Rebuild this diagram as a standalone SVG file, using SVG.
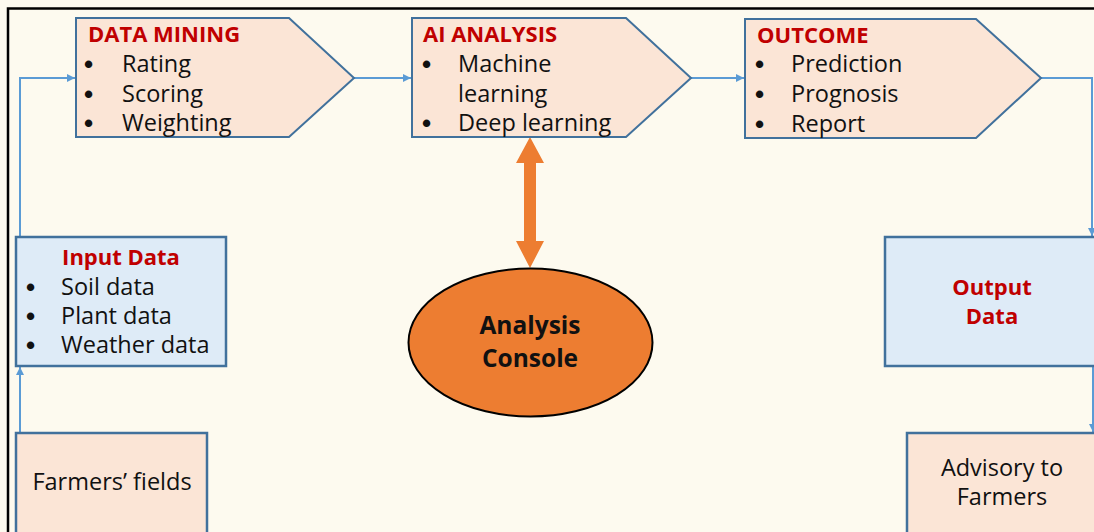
<svg xmlns="http://www.w3.org/2000/svg" width="1094" height="532" viewBox="0 0 1094 532">
<defs>
<marker id="ah" viewBox="0 0 10 10" refX="10" refY="5" markerWidth="8" markerHeight="8" markerUnits="userSpaceOnUse" orient="auto">
<path d="M0,0 L10,5 L0,10 z" fill="#5B9BD5"/>
</marker>
<style>
.pent{fill:#FBE5D6;stroke:#41719C;stroke-width:2}
.blue{fill:#DEEBF7;stroke:#41719C;stroke-width:2.5}
.peach{fill:#FBE5D6;stroke:#41719C;stroke-width:2.5}
.conn{fill:none;stroke:#5B9BD5;stroke-width:2}
.t{font-family:"Open Sans","Liberation Sans",sans-serif;font-size:23.5px;fill:#111}
.h{font-family:"Open Sans","Liberation Sans",sans-serif;font-size:22px;font-weight:bold;fill:#C00000}
.b{font-family:"Liberation Sans",sans-serif;font-size:26px;font-weight:bold;fill:#111}
.c{font-family:"Open Sans","Liberation Sans",sans-serif;font-size:24.5px;font-weight:bold;fill:#111}
</style>
</defs>
<rect width="1094" height="532" fill="#FDFAEF"/>
<path d="M8,532 L8,8.5 L1094,8.5" fill="none" stroke="#000" stroke-width="2.5"/>

<g id="connectors">
<path class="conn" d="M20,237 L20,78 L75,78" marker-end="url(#ah)"/>
<path class="conn" d="M20,433 L20,367" marker-end="url(#ah)"/>
<path class="conn" d="M354,78 L411,78" marker-end="url(#ah)"/>
<path class="conn" d="M691,78 L744,78" marker-end="url(#ah)"/>
<path class="conn" d="M1041,78 L1092,78 L1092,236" marker-end="url(#ah)"/>
<path class="conn" d="M1093,367 L1093,432" marker-end="url(#ah)"/>
<g id="double-arrow" fill="#ED7D31">
<polygon points="530,137 544,163 536,163 536,241 544,241 530,268 516,241 524,241 524,163 516,163"/>
</g>
</g>

<g id="data-mining">
<polygon class="pent" points="76,18 289,18 354,78 289,137 76,137"/>
<text class="h" x="88" y="42">DATA MINING</text>
<text class="b" x="84" y="73">•</text><text class="t" x="122" y="72">Rating</text>
<text class="b" x="84" y="103">•</text><text class="t" x="122" y="102">Scoring</text>
<text class="b" x="84" y="132">•</text><text class="t" x="122" y="131">Weighting</text>
</g>

<g id="ai-analysis">
<polygon class="pent" points="412,18 626,18 691,78 626,137 412,137"/>
<text class="h" x="423" y="42">AI ANALYSIS</text>
<text class="b" x="422" y="73">•</text><text class="t" x="458" y="72">Machine</text>
<text class="t" x="458" y="102">learning</text>
<text class="b" x="422" y="132">•</text><text class="t" x="458" y="131">Deep learning</text>
</g>

<g id="outcome">
<polygon class="pent" points="745,19 976,19 1041,78 976,138 745,138"/>
<text class="h" x="757" y="43">OUTCOME</text>
<text class="b" x="755" y="73">•</text><text class="t" x="791" y="72">Prediction</text>
<text class="b" x="755" y="103">•</text><text class="t" x="791" y="102">Prognosis</text>
<text class="b" x="755" y="133">•</text><text class="t" x="791" y="132">Report</text>
</g>

<g id="input-data">
<rect class="blue" x="16" y="237" width="210" height="129"/>
<text class="h" x="121" y="265" text-anchor="middle">Input Data</text>
<text class="b" x="26" y="296">•</text><text class="t" x="61" y="295">Soil data</text>
<text class="b" x="26" y="325">•</text><text class="t" x="61" y="324">Plant data</text>
<text class="b" x="26" y="354">•</text><text class="t" x="61" y="353">Weather data</text>
</g>

<g id="farmers-fields">
<rect class="peach" x="16" y="433" width="191" height="110"/>
<text class="t" x="112" y="490" text-anchor="middle">Farmers’ fields</text>
</g>

<g id="analysis-console">
<ellipse cx="530.5" cy="342.5" rx="122" ry="74" fill="#ED7D31" stroke="#000" stroke-width="2"/>
<text class="c" x="530" y="334" text-anchor="middle">Analysis</text>
<text class="c" x="530" y="367" text-anchor="middle">Console</text>
</g>

<g id="output-data">
<rect class="blue" x="885" y="237" width="220" height="129"/>
<text class="h" x="992" y="295" text-anchor="middle">Output</text>
<text class="h" x="992" y="324" text-anchor="middle">Data</text>
</g>

<g id="advisory">
<rect class="peach" x="907" y="433" width="200" height="110"/>
<text class="t" x="1002" y="476" text-anchor="middle">Advisory to</text>
<text class="t" x="1002" y="505" text-anchor="middle">Farmers</text>
</g>
</svg>
